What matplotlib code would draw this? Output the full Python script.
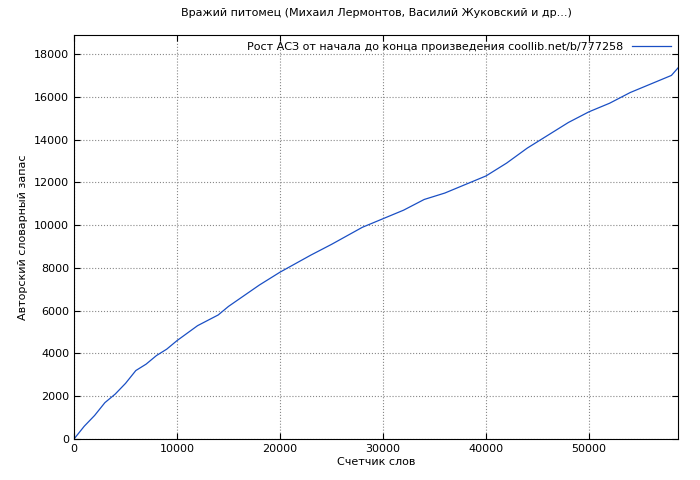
import matplotlib
matplotlib.use("Agg")
import matplotlib.pyplot as plt

words = [0, 1000, 2000, 3000, 4000, 5000, 6000, 7000, 8000, 9000, 10000, 12000, 14000, 15000,
         18000, 20000, 23000, 25000, 28000, 30000, 32000, 34000, 36000, 38000, 40000, 42000,
         44000, 46000, 48000, 50000, 52000, 54000, 56000, 58000, 58640]
vocab = [0, 600, 1100, 1700, 2100, 2600, 3200, 3500, 3900, 4200, 4600, 5300, 5800, 6200,
         7200, 7800, 8600, 9100, 9900, 10300, 10700, 11200, 11500, 11900, 12300, 12900,
         13600, 14200, 14800, 15300, 15700, 16200, 16600, 17000, 17350]

plt.rcParams['font.family'] = ['DejaVu Sans']
plt.rcParams['font.size'] = 8
fig = plt.figure(figsize=(7, 4.8), dpi=100)
ax = fig.add_axes([74/700, 1-439/480, 604/700, 404/480])
ax.plot(words, vocab, color='#1a4fc4', lw=0.9,
        label='Рост АСЗ от начала до конца произведения coollib.net/b/777258')
ax.set_xlim(0, 58640)
ax.set_ylim(0, 18890)
ax.set_xticks(range(0, 58000, 10000))
ax.set_yticks(range(0, 18001, 2000))
ax.grid(True, linestyle=':', color='#888888', lw=0.8)
ax.tick_params(direction='in', length=4, top=True, right=True)
ax.set_title('Вражий питомец (Михаил Лермонтов, Василий Жуковский и др...)', fontsize=8, pad=14)
ax.set_xlabel('Счетчик слов', labelpad=2)
ax.set_ylabel('Авторский словарный запас')
ax.legend(loc='upper right', frameon=False, markerfirst=False, handlelength=3.5,
          borderaxespad=0.2, fontsize=8)
fig.savefig('out.png')
